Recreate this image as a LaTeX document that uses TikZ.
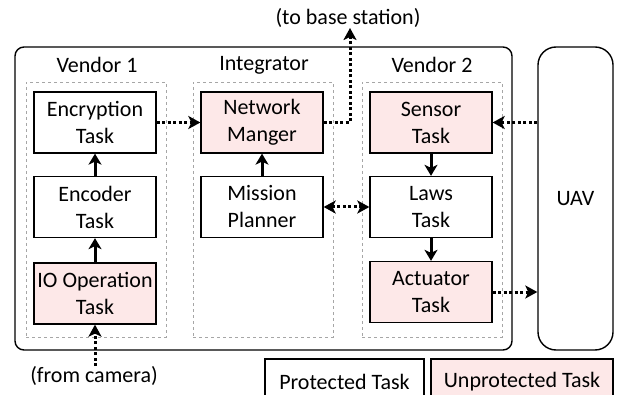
\documentclass[tikz,border=0pt]{standalone}
\usepackage{fontspec}
\setmainfont{Carlito}
\usetikzlibrary{arrows.meta}
\definecolor{pinkfill}{RGB}{253,232,232}
\begin{document}
\begin{tikzpicture}[x=1pt,y=-1pt,
  font=\fontsize{22}{27}\selectfont,
  task/.style={draw, line width=1.3pt, align=center, inner sep=0pt, minimum width=122pt, minimum height=61pt},
  unprot/.style={task, fill=pinkfill},
  grp/.style={draw=gray!70, dashed, line width=0.6pt, minimum width=140pt, minimum height=255pt, inner sep=0pt},
  solidarr/.style={-{Stealth[length=11pt,width=13pt,inset=3pt]}, line width=3pt},
  dotarr/.style={-{Stealth[length=12pt,width=13pt,inset=3pt]}, line width=3pt, dash pattern=on 3pt off 2.5pt},
  dotarr2/.style={{Stealth[length=12pt,width=13pt,inset=3pt]}-{Stealth[length=12pt,width=13pt,inset=3pt]}, line width=3pt, dash pattern=on 3pt off 2.5pt},
  lbl/.style={inner sep=0pt}
]
\useasboundingbox (0,0) rectangle (618,395);
% outer container and UAV
\node[draw, line width=1.4pt, rounded corners=9pt, minimum width=497pt, minimum height=303pt, inner sep=0pt] (outer) at (263.5,198.5) {};
\node[draw, line width=1.4pt, rounded corners=18pt, minimum width=75pt, minimum height=303pt, inner sep=0pt] (uav) at (575.5,198.5) {UAV};
% groups
\node[grp] (g1) at (96,209.5) {};
\node[grp] (g2) at (263,209.5) {};
\node[grp] (g3) at (432,209.5) {};
\node[lbl] (t1) at (97,65) {Vendor 1};
\node[lbl] (t2) at (264,65) {Integrator};
\node[lbl] (t3) at (432,65) {Vendor 2};
% tasks
\node[task] (enc) at (95,122.5) {Encryption\\Task};
\node[unprot] (net) at (262,122.5) {Network\\Manger};
\node[unprot] (sen) at (431,122.5) {Sensor\\Task};
\node[task] (cod) at (95,207) {Encoder\\Task};
\node[task] (mis) at (262,207) {Mission\\Planner};
\node[task] (law) at (431,207) {Laws\\Task};
\node[unprot] (io) at (95,293.5) {IO Operation\\Task};
\node[unprot] (act) at (431,292) {Actuator\\Task};
% labels
\node[lbl] (base) at (348,18) {(to base station)};
\node[lbl] (cam) at (94,376) {(from camera)};
\coordinate (turn) at (350,122.5);
\coordinate (up) at (350,28);
% solid arrows
\draw[solidarr] (io) -- (cod);
\draw[solidarr] (cod) -- (enc);
\draw[solidarr] (mis) -- (net);
\draw[solidarr] (sen) -- (law);
\draw[solidarr] (law) -- (act);
% dotted arrows
\draw[dotarr] (enc) -- (net);
\draw[dotarr] (net.east) -- (turn) -- (up);
\draw[dotarr] (uav.west |- sen.east) -- (sen.east);
\draw[dotarr] (act.east) -- (act.east -| uav.west);
\draw[dotarr2] (mis.east) -- (law.west);
\draw[dotarr] (cam.north -| io.south) -- (io.south);
% legend
\node[task, minimum width=159pt, minimum height=46pt] (leg1) at (344.5,382) {Protected Task};
\node[unprot, minimum width=182pt, minimum height=46pt] (leg2) at (522,382) {Unprotected Task};
\end{tikzpicture}
\end{document}
